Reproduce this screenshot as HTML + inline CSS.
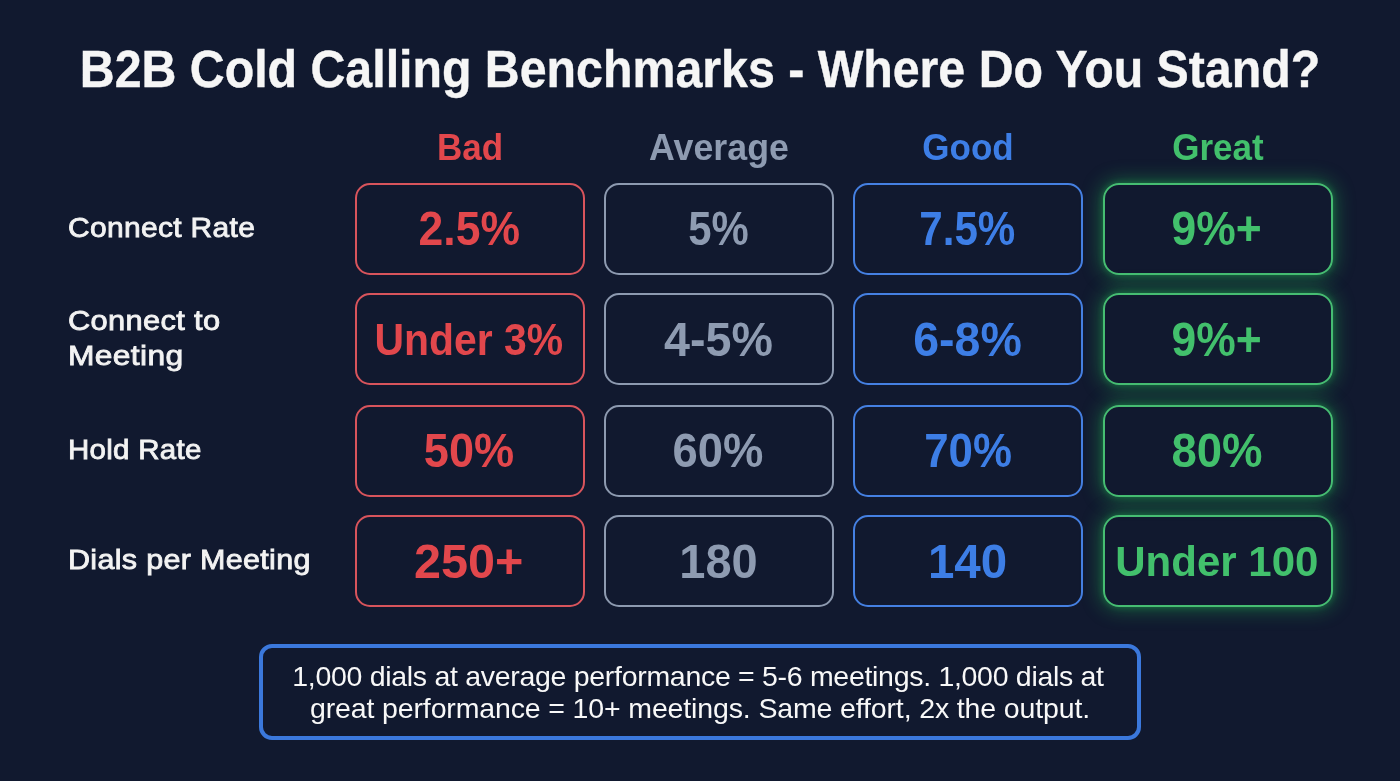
<!DOCTYPE html>
<html>
<head>
<meta charset="utf-8">
<style>
html,body{margin:0;padding:0;}
body{width:1400px;height:781px;overflow:hidden;background:#11192f;font-family:"Liberation Sans",Arial,sans-serif;position:relative;}
.t{position:absolute;white-space:nowrap;}
#title{left:0;width:1400px;text-align:center;top:40px;font-size:51px;font-weight:bold;color:#f6f6f6;line-height:60px;transform:scaleX(0.9468);-webkit-text-stroke:0.4px #f6f6f6;}
.h{top:127px;width:230px;text-align:center;font-size:37.8px;font-weight:bold;line-height:40px;transform:scaleX(0.926);}
.lab{left:68px;font-size:28.5px;color:#f3f3f3;line-height:35.2px;-webkit-text-stroke:0.85px #f3f3f3;letter-spacing:0.3px;transform-origin:0 0;}
.box{position:absolute;width:226px;height:88px;border:2px solid;border-radius:15px;display:flex;align-items:center;justify-content:center;font-size:45px;font-weight:bold;box-sizing:content-box;}
.r{border-color:#d8545c;color:#e2474c;}
.a{border-color:#8d9ab0;color:#8e9bb1;}
.g{border-color:#4580e2;color:#3d7ee6;}
.box span{display:inline-block;position:relative;left:-0.7px;}
.gr{border-color:#46bd72;color:#42c06c;border-radius:16px;box-shadow:0 0 20px 2px rgba(35,185,85,0.45),0 0 6px rgba(35,185,85,0.4);}
#note{position:absolute;left:259px;top:644.2px;width:874px;height:87.8px;border:4px solid #3b78dc;border-radius:13px;color:#f8f8f8;font-size:28.5px;line-height:31.6px;text-align:center;display:flex;align-items:center;justify-content:center;}
</style>
</head>
<body>
<div class="t" id="title">B2B Cold Calling Benchmarks - Where Do You Stand?</div>

<div class="t h" style="left:354.8px;color:#e2474c">Bad</div>
<div class="t h" style="left:604.1px;color:#8e9bb1;transform:scaleX(0.946)">Average</div>
<div class="t h" style="left:853.4px;color:#3d7ee6">Good</div>
<div class="t h" style="left:1102.7px;color:#42c06c">Great</div>

<div class="t lab" id="l1" style="top:210px;transform:scaleX(1.052)">Connect Rate</div>
<div class="t lab" id="l2" style="top:303.2px"><span id="l2a" style="display:inline-block;transform-origin:0 0;transform:scaleX(1.082)">Connect to</span><br><span id="l2b" style="display:inline-block;transform-origin:0 0;transform:scaleX(1.115)">Meeting</span></div>
<div class="t lab" id="l3" style="top:431.5px;transform:scaleX(1.033)">Hold Rate</div>
<div class="t lab" id="l4" style="top:542px;transform:scaleX(1.07)">Dials per Meeting</div>

<div class="box r" style="left:354.8px;top:182.7px"><span style="transform:scale(0.988,1.074)">2.5%</span></div>
<div class="box a" style="left:604.1px;top:182.7px"><span style="transform:scale(0.93,1.074)">5%</span></div>
<div class="box g" style="left:853.4px;top:182.7px"><span style="transform:scale(0.937,1.074)">7.5%</span></div>
<div class="box gr" style="left:1102.7px;top:182.7px"><span style="transform:scale(0.987,1.074)">9%+</span></div>

<div class="box r" style="left:354.8px;top:293px"><span style="top:1px;transform:scale(0.909,0.97)">Under 3%</span></div>
<div class="box a" style="left:604.1px;top:293px"><span style="top:1px;transform:scale(1.036,1.074)">4-5%</span></div>
<div class="box g" style="left:853.4px;top:293px"><span style="top:1px;transform:scale(1.034,1.074)">6-8%</span></div>
<div class="box gr" style="left:1102.7px;top:293px"><span style="top:1px;transform:scale(0.987,1.074)">9%+</span></div>

<div class="box r" style="left:354.8px;top:405px"><span style="transform:scale(1.003,1.074)">50%</span></div>
<div class="box a" style="left:604.1px;top:405px"><span style="transform:scale(1.009,1.074)">60%</span></div>
<div class="box g" style="left:853.4px;top:405px"><span style="transform:scale(0.975,1.074)">70%</span></div>
<div class="box gr" style="left:1102.7px;top:405px"><span style="transform:scale(1.012,1.074)">80%</span></div>

<div class="box r" style="left:354.8px;top:515.3px"><span style="top:0.6px;transform:scale(1.079,1.074)">250+</span></div>
<div class="box a" style="left:604.1px;top:515.3px"><span style="top:0.6px;transform:scale(1.045,1.074)">180</span></div>
<div class="box g" style="left:853.4px;top:515.3px"><span style="top:0.6px;transform:scale(1.056,1.074)">140</span></div>
<div class="box gr" style="left:1102.7px;top:515.3px"><span style="top:0.6px;transform:scale(0.934,0.95)">Under 100</span></div>

<div id="note"><div style="padding-top:1px"><span style="letter-spacing:-0.3px;position:relative;left:-2px">1,000 dials at average performance = 5-6 meetings. 1,000 dials at</span><br><span style="letter-spacing:-0.14px">great performance = 10+ meetings. Same effort, 2x the output.</span></div></div>
</body>
</html>
